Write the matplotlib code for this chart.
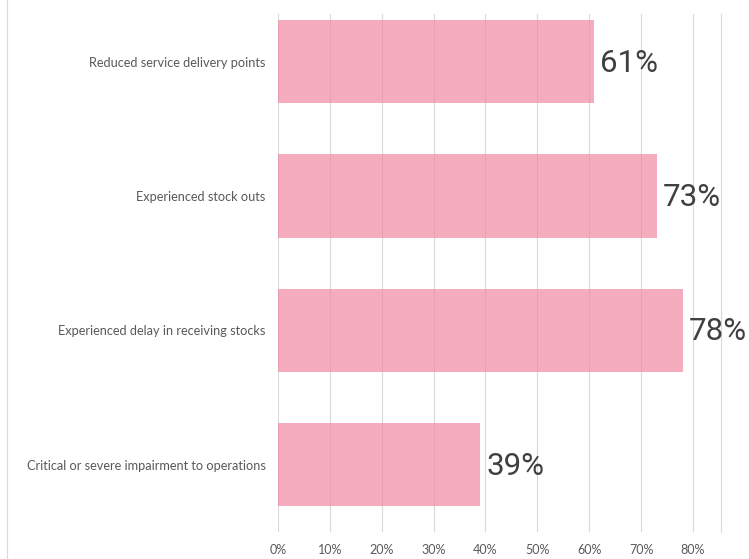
import matplotlib
matplotlib.use('Agg')
import matplotlib.pyplot as plt
from matplotlib.lines import Line2D

categories = [
    "Reduced service delivery points",
    "Experienced stock outs",
    "Experienced delay in receiving stocks",
    "Critical or severe impairment to operations",
]
values = [0.61, 0.73, 0.78, 0.39]
value_labels = ["61%", "73%", "78%", "39%"]
tick_values = [0, 0.1, 0.2, 0.3, 0.4, 0.5, 0.6, 0.7, 0.8]
tick_labels = ["0%", "10%", "20%", "30%", "40%", "50%", "60%", "70%", "80%"]

fig = plt.figure(figsize=(7.49, 5.59), dpi=100)
ax = fig.add_axes([278 / 749, 1 - 532 / 559, (721 - 278) / 749, (532 - 14) / 559])

ypos = list(range(len(categories)))
ax.barh(ypos, values, height=0.62, color="#F08CA5", alpha=0.72, zorder=3)

for y, v, lab in zip(ypos, values, value_labels):
    ax.text(v + 0.011, y + 0.01, lab, va="center", ha="left", fontsize=22.5,
            family="Roboto", color="#404040", clip_on=False, zorder=4)

ax.set_xlim(0, 0.854)
ax.set_ylim(3.5, -0.355)
ax.set_xticks(tick_values)
ax.set_xticklabels(tick_labels, family="Lato", fontsize=9, color="#595959")
ax.set_yticks(ypos)
ax.set_yticklabels(categories, family="Lato", fontsize=9.2, color="#595959")
ax.tick_params(length=0, pad=9)
ax.tick_params(axis="x", pad=9)
ax.xaxis.grid(True, color="#D9D9D9", linewidth=0.8, zorder=1)
ax.set_axisbelow(True)

for side in ["top", "bottom", "left"]:
    ax.spines[side].set_visible(False)
ax.spines["right"].set_color("#D9D9D9")
ax.spines["right"].set_linewidth(0.8)

# chart frame line on the left
fig.add_artist(Line2D([7 / 749, 7 / 749], [0, 1], color="#D9D9D9", linewidth=0.8))

fig.savefig("out.png", dpi=100)
